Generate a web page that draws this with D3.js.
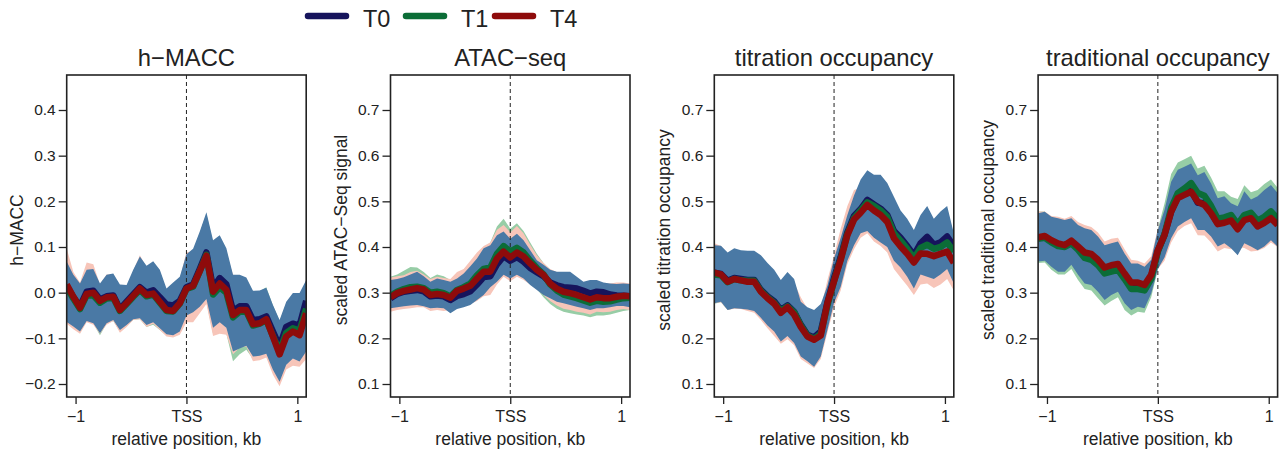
<!DOCTYPE html>
<html><head><meta charset="utf-8">
<script src="https://cdn.jsdelivr.net/npm/d3@7/dist/d3.min.js"></script>
<style>
html,body{margin:0;padding:0;background:#fff;}
svg text{font-family:"Liberation Sans",Arial,Helvetica,sans-serif;fill:#222;}
</style></head>
<body><svg id="chart" width="1279" height="455"></svg>
<script>
// ---- shared positions (kb relative to TSS) ----
const positions = [-1.08,-1.02,-0.96,-0.90,-0.84,-0.78,-0.72,-0.66,-0.60,-0.54,-0.48,-0.42,-0.36,-0.30,-0.24,-0.18,-0.12,-0.06,0.00,0.06,0.12,0.18,0.24,0.30,0.36,0.42,0.48,0.54,0.60,0.66,0.72,0.78,0.84,0.90,0.96,1.02,1.08];
const seriesNames = ["T0","T1","T4"];
const xTickValues = [-1, 0, 1];
const xTickLabels = ["\u22121", "TSS", "1"];
const hmaccTicks = [-0.2,-0.1,0.0,0.1,0.2,0.3,0.4];
const scaledTicks = [0.1,0.2,0.3,0.4,0.5,0.6,0.7];
const panelTitles = ["h\u2212MACC","ATAC\u2212seq","titration occupancy","traditional occupancy"];
const yTitles = ["h\u2212MACC","scaled ATAC\u2212Seq signal","scaled titration occupancy","scaled traditional occupancy"];

// ---- h-MACC ----
const hmacc_T0 = [0.015,-0.010,-0.030,0.002,0.004,-0.015,-0.008,-0.006,-0.036,-0.020,-0.004,0.012,0.000,0.005,-0.010,-0.026,-0.028,-0.018,0.012,0.018,0.052,0.088,0.010,0.032,0.018,-0.040,-0.030,-0.030,-0.060,-0.058,-0.052,-0.085,-0.118,-0.075,-0.068,-0.072,-0.018];
const hmacc_T1 = [0.012,-0.013,-0.036,-0.006,-0.006,-0.022,-0.013,-0.011,-0.040,-0.025,-0.009,0.006,-0.008,-0.004,-0.022,-0.040,-0.041,-0.024,0.008,0.013,0.047,0.083,-0.004,0.012,0.000,-0.054,-0.042,-0.041,-0.072,-0.068,-0.060,-0.095,-0.128,-0.088,-0.078,-0.083,-0.035];
const hmacc_T4 = [0.018,-0.009,-0.033,-0.003,0.000,-0.018,-0.010,-0.009,-0.038,-0.023,-0.007,0.009,-0.005,-0.002,-0.020,-0.038,-0.040,-0.023,0.009,0.015,0.047,0.081,0.002,0.020,0.006,-0.049,-0.038,-0.038,-0.069,-0.067,-0.058,-0.096,-0.135,-0.096,-0.085,-0.093,-0.045];
const hmacc_T0_hi = [0.068,0.039,0.020,0.050,0.052,0.020,0.039,0.042,0.018,0.017,0.050,0.079,0.059,0.069,0.050,0.009,0.022,0.035,0.084,0.096,0.134,0.176,0.115,0.126,0.097,0.039,0.039,0.033,0.004,0.005,0.011,-0.027,-0.060,-0.020,-0.001,-0.001,0.028];
const hmacc_T0_lo = [-0.064,-0.074,-0.085,-0.062,-0.067,-0.089,-0.067,-0.060,-0.082,-0.071,-0.058,-0.056,-0.071,-0.065,-0.078,-0.091,-0.093,-0.085,-0.050,-0.043,-0.031,-0.014,-0.077,-0.065,-0.077,-0.129,-0.122,-0.116,-0.140,-0.138,-0.134,-0.169,-0.195,-0.158,-0.144,-0.151,-0.129];
const hmacc_T1_hi = [0.064,0.035,0.016,0.046,0.048,0.016,0.035,0.038,0.014,0.013,0.046,0.075,0.055,0.065,0.046,0.005,0.018,0.031,0.080,0.092,0.130,0.172,0.110,0.120,0.092,0.035,0.035,0.030,0.002,0.003,0.012,-0.028,-0.062,-0.024,-0.006,-0.006,0.022];
const hmacc_T1_lo = [-0.062,-0.076,-0.088,-0.062,-0.068,-0.093,-0.068,-0.062,-0.085,-0.073,-0.060,-0.058,-0.075,-0.070,-0.082,-0.094,-0.095,-0.087,-0.052,-0.048,-0.035,-0.020,-0.090,-0.085,-0.090,-0.150,-0.135,-0.125,-0.145,-0.140,-0.136,-0.170,-0.198,-0.160,-0.148,-0.155,-0.132];
const hmacc_T4_hi = [0.097,0.045,0.022,0.066,0.062,0.018,0.040,0.040,0.010,0.012,0.048,0.082,0.055,0.065,0.045,0.005,0.015,0.030,0.090,0.085,0.120,0.160,0.100,0.110,0.085,0.040,0.030,0.025,-0.005,-0.005,0.000,-0.040,-0.075,-0.035,-0.020,-0.020,0.010];
const hmacc_T4_lo = [-0.068,-0.080,-0.090,-0.065,-0.070,-0.090,-0.070,-0.062,-0.088,-0.075,-0.060,-0.058,-0.075,-0.068,-0.082,-0.096,-0.098,-0.092,-0.065,-0.065,-0.045,-0.025,-0.095,-0.090,-0.092,-0.135,-0.120,-0.118,-0.150,-0.148,-0.142,-0.180,-0.205,-0.168,-0.160,-0.162,-0.145];

// ---- ATAC-seq ----
const atac_T0 = [0.288,0.297,0.302,0.304,0.306,0.303,0.292,0.294,0.292,0.284,0.293,0.297,0.303,0.318,0.334,0.336,0.362,0.380,0.370,0.378,0.368,0.354,0.345,0.336,0.322,0.316,0.312,0.311,0.309,0.304,0.298,0.302,0.301,0.296,0.294,0.293,0.292];
const atac_T1 = [0.293,0.302,0.308,0.312,0.313,0.310,0.300,0.302,0.299,0.292,0.306,0.312,0.320,0.338,0.352,0.355,0.385,0.402,0.390,0.398,0.388,0.370,0.354,0.340,0.318,0.305,0.296,0.292,0.288,0.283,0.278,0.282,0.280,0.281,0.285,0.288,0.289];
const atac_T4 = [0.290,0.299,0.304,0.307,0.310,0.307,0.295,0.297,0.295,0.289,0.304,0.309,0.315,0.331,0.346,0.346,0.375,0.390,0.377,0.388,0.379,0.364,0.350,0.339,0.320,0.309,0.302,0.299,0.295,0.290,0.285,0.290,0.288,0.288,0.291,0.293,0.292];
const atac_T0_hi = [0.328,0.330,0.334,0.340,0.346,0.336,0.324,0.331,0.328,0.324,0.331,0.342,0.358,0.375,0.397,0.404,0.426,0.434,0.418,0.429,0.415,0.393,0.371,0.361,0.350,0.346,0.346,0.346,0.335,0.324,0.328,0.328,0.322,0.320,0.319,0.320,0.319];
const atac_T0_lo = [0.266,0.268,0.270,0.272,0.273,0.270,0.266,0.267,0.266,0.255,0.264,0.268,0.273,0.284,0.295,0.312,0.324,0.339,0.331,0.339,0.331,0.317,0.306,0.295,0.288,0.280,0.277,0.273,0.269,0.266,0.262,0.266,0.266,0.268,0.271,0.271,0.268];
const atac_T1_hi = [0.335,0.340,0.348,0.356,0.355,0.345,0.332,0.340,0.336,0.328,0.342,0.350,0.366,0.384,0.398,0.410,0.445,0.462,0.440,0.452,0.435,0.410,0.385,0.365,0.350,0.342,0.338,0.335,0.325,0.315,0.310,0.315,0.314,0.315,0.318,0.318,0.318];
const atac_T1_lo = [0.262,0.266,0.270,0.274,0.275,0.272,0.264,0.266,0.264,0.262,0.270,0.275,0.282,0.292,0.305,0.308,0.330,0.345,0.335,0.345,0.338,0.325,0.308,0.290,0.275,0.265,0.258,0.255,0.252,0.250,0.246,0.250,0.250,0.252,0.256,0.260,0.262];
const atac_T4_hi = [0.333,0.336,0.338,0.345,0.348,0.340,0.330,0.335,0.332,0.330,0.345,0.352,0.370,0.388,0.402,0.410,0.438,0.448,0.432,0.446,0.430,0.405,0.382,0.365,0.352,0.345,0.342,0.340,0.332,0.322,0.318,0.322,0.320,0.320,0.322,0.322,0.320];
const atac_T4_lo = [0.258,0.262,0.264,0.266,0.268,0.268,0.260,0.262,0.260,0.262,0.268,0.270,0.275,0.282,0.292,0.295,0.318,0.335,0.325,0.335,0.328,0.318,0.308,0.295,0.282,0.272,0.265,0.262,0.258,0.256,0.252,0.258,0.257,0.258,0.262,0.264,0.262];

// ---- titration occupancy ----
const titr_T0 = [0.344,0.341,0.326,0.332,0.330,0.328,0.328,0.306,0.292,0.281,0.262,0.272,0.258,0.230,0.208,0.202,0.215,0.278,0.332,0.378,0.432,0.468,0.483,0.503,0.493,0.484,0.470,0.435,0.420,0.402,0.382,0.408,0.422,0.405,0.410,0.423,0.402];
const titr_T1 = [0.340,0.338,0.323,0.330,0.327,0.326,0.326,0.304,0.290,0.278,0.260,0.270,0.257,0.228,0.206,0.199,0.210,0.272,0.326,0.374,0.428,0.463,0.480,0.498,0.490,0.480,0.466,0.430,0.414,0.396,0.375,0.398,0.405,0.396,0.400,0.410,0.390];
const titr_T4 = [0.344,0.340,0.324,0.330,0.327,0.324,0.324,0.302,0.288,0.276,0.256,0.268,0.252,0.225,0.204,0.197,0.206,0.277,0.325,0.372,0.426,0.460,0.475,0.492,0.480,0.470,0.455,0.419,0.401,0.385,0.366,0.386,0.385,0.380,0.385,0.390,0.365];
const titr_T0_hi = [0.404,0.403,0.388,0.397,0.393,0.392,0.392,0.382,0.365,0.350,0.328,0.345,0.330,0.280,0.268,0.262,0.275,0.315,0.375,0.420,0.470,0.513,0.548,0.568,0.558,0.558,0.540,0.510,0.480,0.462,0.437,0.470,0.490,0.462,0.478,0.490,0.430];
const titr_T0_lo = [0.277,0.280,0.262,0.266,0.265,0.263,0.260,0.245,0.228,0.215,0.193,0.205,0.190,0.160,0.150,0.138,0.160,0.218,0.278,0.313,0.370,0.404,0.430,0.435,0.420,0.410,0.400,0.370,0.355,0.335,0.309,0.340,0.335,0.330,0.340,0.352,0.320];
const titr_T1_hi = [0.399,0.398,0.383,0.392,0.388,0.387,0.387,0.377,0.360,0.345,0.323,0.340,0.325,0.275,0.263,0.257,0.270,0.310,0.370,0.415,0.465,0.508,0.543,0.563,0.553,0.553,0.535,0.505,0.475,0.457,0.432,0.465,0.485,0.457,0.473,0.485,0.425];
const titr_T1_lo = [0.276,0.279,0.262,0.266,0.265,0.262,0.259,0.244,0.226,0.212,0.192,0.204,0.189,0.160,0.150,0.140,0.160,0.218,0.276,0.312,0.368,0.402,0.427,0.432,0.418,0.408,0.396,0.366,0.350,0.330,0.305,0.332,0.330,0.325,0.332,0.345,0.315];
const titr_T4_hi = [0.408,0.402,0.386,0.395,0.390,0.388,0.388,0.365,0.352,0.340,0.322,0.335,0.322,0.290,0.265,0.258,0.265,0.328,0.382,0.440,0.490,0.525,0.530,0.550,0.545,0.538,0.522,0.485,0.470,0.455,0.435,0.452,0.455,0.450,0.452,0.448,0.430];
const titr_T4_lo = [0.277,0.279,0.262,0.265,0.264,0.260,0.256,0.240,0.222,0.205,0.188,0.198,0.185,0.155,0.145,0.135,0.155,0.212,0.268,0.305,0.362,0.395,0.420,0.430,0.412,0.402,0.388,0.352,0.333,0.315,0.295,0.318,0.320,0.310,0.318,0.330,0.305];

// ---- traditional occupancy ----
const trad_T0 = [0.420,0.422,0.412,0.405,0.402,0.411,0.398,0.384,0.381,0.368,0.350,0.356,0.360,0.338,0.316,0.316,0.312,0.336,0.392,0.427,0.478,0.510,0.517,0.524,0.497,0.496,0.476,0.452,0.456,0.461,0.441,0.463,0.466,0.448,0.456,0.466,0.450];
const trad_T1 = [0.418,0.420,0.410,0.402,0.400,0.408,0.394,0.376,0.372,0.360,0.342,0.346,0.350,0.330,0.308,0.308,0.305,0.330,0.390,0.428,0.485,0.518,0.528,0.540,0.518,0.512,0.490,0.462,0.465,0.470,0.450,0.470,0.475,0.458,0.466,0.478,0.462];
const trad_T4 = [0.421,0.424,0.415,0.408,0.404,0.414,0.401,0.388,0.385,0.372,0.355,0.360,0.363,0.342,0.322,0.322,0.317,0.339,0.393,0.426,0.477,0.507,0.514,0.521,0.499,0.492,0.474,0.450,0.453,0.458,0.439,0.459,0.463,0.445,0.453,0.463,0.448];
const trad_T0_hi = [0.474,0.477,0.466,0.463,0.459,0.463,0.448,0.441,0.437,0.423,0.404,0.408,0.412,0.386,0.364,0.364,0.357,0.372,0.437,0.481,0.543,0.569,0.576,0.583,0.557,0.564,0.539,0.507,0.511,0.496,0.489,0.522,0.504,0.511,0.525,0.536,0.518];
const trad_T0_lo = [0.368,0.370,0.357,0.346,0.346,0.361,0.339,0.320,0.317,0.302,0.284,0.295,0.302,0.277,0.262,0.269,0.266,0.298,0.352,0.377,0.419,0.445,0.455,0.463,0.437,0.437,0.423,0.401,0.408,0.397,0.382,0.408,0.401,0.393,0.401,0.415,0.401];
const trad_T1_hi = [0.478,0.478,0.462,0.455,0.452,0.458,0.440,0.430,0.425,0.412,0.392,0.398,0.402,0.375,0.352,0.352,0.345,0.370,0.440,0.495,0.560,0.585,0.592,0.600,0.572,0.578,0.552,0.522,0.522,0.510,0.505,0.535,0.520,0.525,0.538,0.548,0.530];
const trad_T1_lo = [0.365,0.366,0.350,0.340,0.340,0.352,0.328,0.308,0.305,0.288,0.272,0.282,0.290,0.262,0.250,0.258,0.256,0.290,0.350,0.385,0.430,0.452,0.460,0.470,0.448,0.446,0.432,0.410,0.415,0.405,0.392,0.418,0.410,0.402,0.410,0.422,0.408];
const trad_T4_hi = [0.478,0.478,0.468,0.466,0.462,0.468,0.455,0.448,0.444,0.432,0.412,0.418,0.420,0.395,0.372,0.370,0.364,0.380,0.440,0.475,0.530,0.555,0.560,0.565,0.540,0.542,0.520,0.490,0.495,0.485,0.475,0.505,0.490,0.495,0.505,0.512,0.500];
const trad_T4_lo = [0.370,0.372,0.360,0.350,0.350,0.364,0.345,0.328,0.326,0.312,0.295,0.305,0.310,0.288,0.272,0.278,0.275,0.305,0.352,0.370,0.410,0.435,0.446,0.452,0.426,0.425,0.410,0.390,0.398,0.395,0.400,0.398,0.390,0.392,0.398,0.410,0.400];

// ---- styling ----
const lineColors = {T0:"#16145c", T1:"#0b6d37", T4:"#8e0b0b"};
const bandColors = {T0:"#4a79a5", T1:"#97cda6", T4:"#f7c5b9"};

const panels = [
  {ticks:hmaccTicks, domain:[-0.2,0.4], mean:{T0:hmacc_T0,T1:hmacc_T1,T4:hmacc_T4},
   lo:{T0:hmacc_T0_lo,T1:hmacc_T1_lo,T4:hmacc_T4_lo}, hi:{T0:hmacc_T0_hi,T1:hmacc_T1_hi,T4:hmacc_T4_hi}},
  {ticks:scaledTicks, domain:[0.1,0.7], mean:{T0:atac_T0,T1:atac_T1,T4:atac_T4},
   lo:{T0:atac_T0_lo,T1:atac_T1_lo,T4:atac_T4_lo}, hi:{T0:atac_T0_hi,T1:atac_T1_hi,T4:atac_T4_hi}},
  {ticks:scaledTicks, domain:[0.1,0.7], mean:{T0:titr_T0,T1:titr_T1,T4:titr_T4},
   lo:{T0:titr_T0_lo,T1:titr_T1_lo,T4:titr_T4_lo}, hi:{T0:titr_T0_hi,T1:titr_T1_hi,T4:titr_T4_hi}},
  {ticks:scaledTicks, domain:[0.1,0.7], mean:{T0:trad_T0,T1:trad_T1,T4:trad_T4},
   lo:{T0:trad_T0_lo,T1:trad_T1_lo,T4:trad_T4_lo}, hi:{T0:trad_T0_hi,T1:trad_T1_hi,T4:trad_T4_hi}}
];

const svg = d3.select("#chart");
const plotTop = 75, plotBottom = 397, pw = 239.5, step = 323.8, firstLeft = 66.7;

panels.forEach((p, i) => {
  const left = firstLeft + step * i;
  const x = d3.scaleLinear().domain([-1.08, 1.08]).range([left, left + pw]);
  const y = d3.scaleLinear().domain(p.domain).range([384, 110]);
  const g = svg.append("g");
  const clipId = "clip" + i;
  svg.append("clipPath").attr("id", clipId).append("rect")
    .attr("x", left).attr("y", plotTop).attr("width", pw).attr("height", plotBottom - plotTop);
  const plot = g.append("g").attr("clip-path", `url(#${clipId})`);

  const bandOrder = ["T1", "T4", "T0"];
  bandOrder.forEach(s => {
    const area = d3.area().x((d, k) => x(positions[k]))
      .y0((d, k) => y(p.lo[s][k])).y1((d, k) => y(p.hi[s][k]));
    plot.append("path").attr("d", area(positions)).attr("fill", bandColors[s]).attr("stroke", "none");
  });
  plot.append("line").attr("x1", x(0)).attr("x2", x(0)).attr("y1", plotTop).attr("y2", plotBottom)
    .attr("stroke", "#222").attr("stroke-width", 1).attr("stroke-dasharray", "4,3");
  seriesNames.forEach(s => {
    const line = d3.line().x((d, k) => x(positions[k])).y(d => y(d));
    plot.append("path").attr("d", line(p.mean[s])).attr("fill", "none")
      .attr("stroke", lineColors[s]).attr("stroke-width", 6.5).attr("stroke-linejoin", "round");
  });

  g.append("rect").attr("x", left).attr("y", plotTop).attr("width", pw).attr("height", plotBottom - plotTop)
    .attr("fill", "none").attr("stroke", "#222").attr("stroke-width", 1.6);

  const ya = g.append("g").attr("transform", `translate(${left},0)`)
    .call(d3.axisLeft(y).tickValues(p.ticks).tickSize(8).tickPadding(3).tickFormat(d3.format(".1f")));
  ya.select(".domain").remove();
  ya.selectAll(".tick line").attr("stroke", "#222").attr("stroke-width", 1.3);
  ya.selectAll(".tick text").attr("font-size", 15.5).attr("fill", "#222")
    .style("font-family", '"Liberation Sans",Arial,sans-serif');

  const xa = g.append("g").attr("transform", `translate(0,${plotBottom})`)
    .call(d3.axisBottom(x).tickValues(xTickValues).tickSize(7).tickPadding(6.5)
      .tickFormat((d, k) => xTickLabels[k]));
  xa.select(".domain").remove();
  xa.selectAll(".tick line").attr("stroke", "#222").attr("stroke-width", 1.3);
  xa.selectAll(".tick text").attr("font-size", 16).attr("fill", "#222")
    .style("font-family", '"Liberation Sans",Arial,sans-serif');

  g.append("text").attr("x", x(0)).attr("y", 66).attr("text-anchor", "middle")
    .attr("font-size", 23.8).text(panelTitles[i]);
  g.append("text").attr("transform", `translate(${left - 44},230) rotate(-90)`)
    .attr("text-anchor", "middle").attr("font-size", 17.5).text(yTitles[i]);
  g.append("text").attr("x", x(0)).attr("y", 445).attr("text-anchor", "middle")
    .attr("font-size", 17.5).text("relative position, kb");
});

const legendX = [308, 406, 495];
const lg = svg.append("g");
seriesNames.forEach((s, i) => {
  lg.append("line").attr("x1", legendX[i]).attr("x2", legendX[i] + 38).attr("y1", 16).attr("y2", 16)
    .attr("stroke", lineColors[s]).attr("stroke-width", 6.5).attr("stroke-linecap", "round");
  lg.append("text").attr("x", legendX[i] + 55).attr("y", 27).attr("font-size", 23.5).text(s);
});
</script>
</body></html>
